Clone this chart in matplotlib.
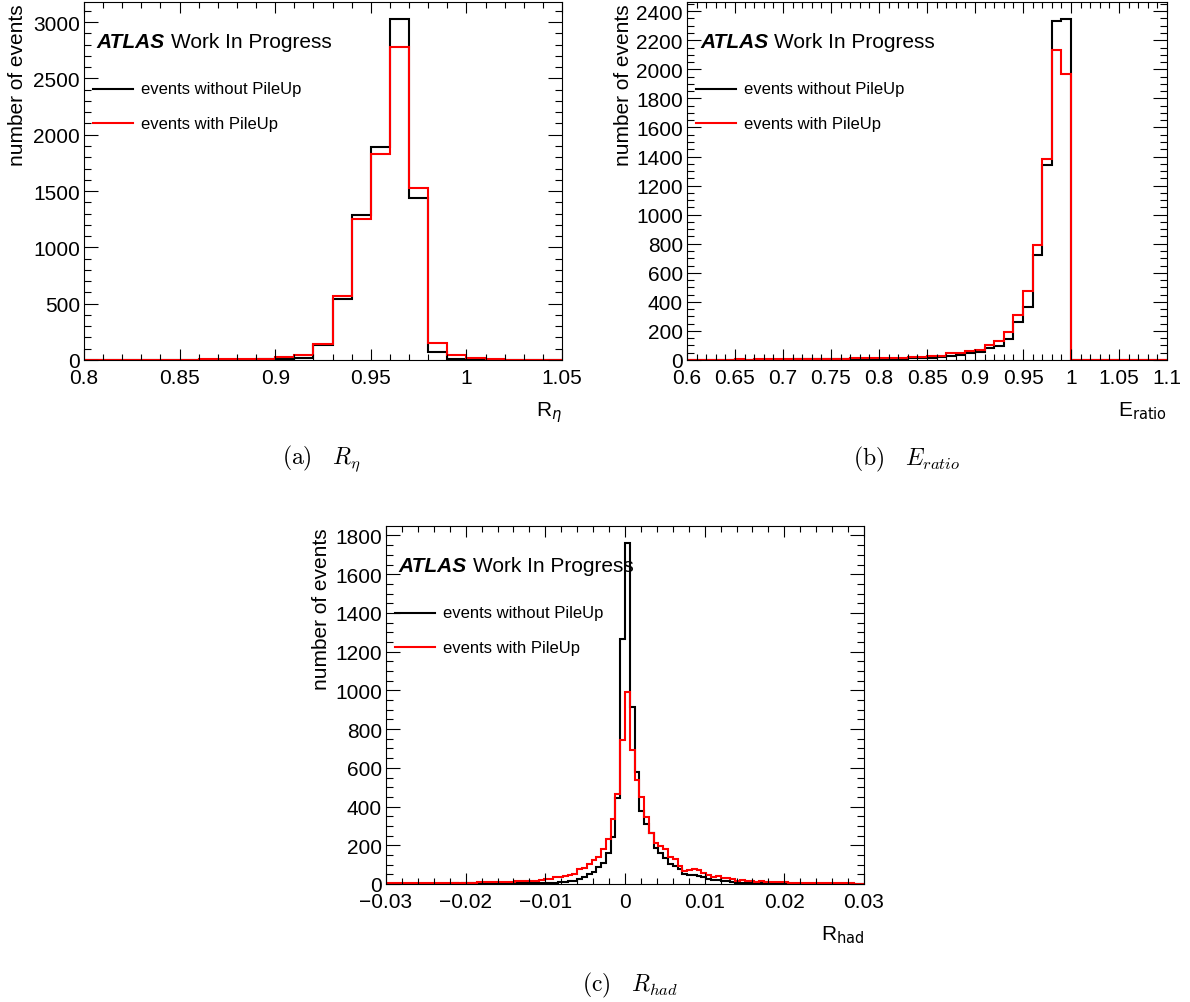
import matplotlib.pyplot as plt
import numpy as np
from matplotlib.lines import Line2D
from matplotlib.ticker import FuncFormatter, MultipleLocator

plt.rcParams["font.family"] = ["Liberation Sans", "DejaVu Sans"]

# R_eta: 25 bins in [0.80, 1.05]
reta_bins = (0.80, 1.05, 25)
reta_nopu = [0, 0, 0, 0, 1, 1, 2, 2, 3, 5, 9, 18, 136, 541, 1287,
             1888, 3027, 1441, 74, 9, 3, 1, 0, 0, 0]
reta_pu = [1, 1, 1, 2, 3, 4, 5, 6, 8, 12, 24, 44, 142, 571, 1251,
           1825, 2775, 1527, 148, 44, 15, 9, 3, 2, 1]

# E_ratio: 50 bins in [0.6, 1.1]
eratio_bins = (0.6, 1.1, 50)
eratio_nopu = [2, 2, 2, 2, 2, 3, 2, 3, 3, 3, 3, 4, 4,
               8, 7, 5, 6, 6, 7, 7, 7, 8, 9,
               14, 14, 11, 20, 30, 37, 46, 52, 80, 98, 146, 259, 364, 725,
               1343, 2334, 2346,
               0, 0, 0, 0, 0, 0, 0, 0, 0, 0]
eratio_pu = [3, 3, 3, 3, 3, 4, 3, 4, 4, 4, 5, 5, 6,
             10, 10, 9, 10, 11, 11, 12, 13, 16, 16,
             20, 20, 25, 30, 50, 45, 62, 69, 103, 133, 195, 313, 476, 789,
             1384, 2135, 1966,
             0, 0, 0, 0, 0, 0, 0, 0, 0, 0]

# R_had: 100 bins in [-0.03, 0.03]
rhad_bins = (-0.03, 0.03, 100)
rhad_nopu = [1, 1, 1, 1, 1, 1, 2, 1, 2, 2,
             2, 2, 2, 2, 3, 2, 3, 3, 3, 3,
             3, 3, 4, 3, 4, 4, 4, 5, 5, 5,
             5, 6, 6, 6, 7, 7, 8, 10, 14, 17,
             28, 36, 50, 64, 86, 110, 162, 244, 445, 1266,
             1761, 913, 580, 375, 308, 262, 186, 158, 136, 105,
             93, 76, 50, 45, 45, 41, 38, 24, 21, 19,
             17, 14, 10, 7, 6, 5, 5, 4, 4, 4,
             3, 3, 3, 3, 2, 2, 2, 2, 2, 2,
             2, 1, 1, 1, 1, 1, 1, 1, 1, 1]
rhad_pu = [3, 3, 4, 3, 4, 4, 4, 5, 4, 5,
           5, 5, 5, 6, 5, 6, 6, 6, 7, 8,
           9, 9, 10, 10, 11, 11, 12, 14, 15, 16,
           17, 18, 22, 24, 25, 35, 38, 41, 46, 50,
           76, 84, 105, 122, 141, 182, 230, 337, 463, 745,
           992, 690, 537, 447, 347, 261, 210, 197, 179, 141,
           131, 93, 67, 72, 76, 72, 59, 48, 36, 41,
           33, 29, 24, 17, 19, 14, 17, 12, 14, 10,
           10, 9, 8, 8, 7, 7, 6, 6, 5, 5,
           5, 4, 4, 4, 3, 3, 3, 3, 2, 2]

legend_labels = ["events without PileUp", "events with PileUp"]
colors = ["black", "#ff0000"]


def root_fmt(v, pos):
    v = round(v, 6)
    if v == 0:
        v = 0.0
    return f"{v:g}".replace("-", "\u2212")


def draw_hist(ax, bins, nopu, pu, xlabel, ylabel_x, xmajor, xminor, ymajor, yminor):
    lo, hi, n = bins
    edges = np.linspace(lo, hi, n + 1)
    ax.stairs(nopu, edges, color=colors[0], lw=1.5, baseline=None)
    ax.stairs(pu, edges, color=colors[1], lw=1.5, baseline=None)
    ax.set_xlim(lo, hi)
    ax.set_ylim(0, 1.05 * max(max(nopu), max(pu)))

    ax.xaxis.set_major_locator(MultipleLocator(xmajor))
    ax.xaxis.set_minor_locator(MultipleLocator(xminor))
    ax.yaxis.set_major_locator(MultipleLocator(ymajor))
    ax.yaxis.set_minor_locator(MultipleLocator(yminor))
    ax.xaxis.set_major_formatter(FuncFormatter(root_fmt))
    ax.yaxis.set_major_formatter(FuncFormatter(root_fmt))
    ax.tick_params(which="both", direction="in", top=True, right=True,
                   labelsize=15, width=0.8)
    ax.tick_params(axis="y", which="major", length=10, pad=3)
    ax.tick_params(axis="y", which="minor", length=5)
    ax.tick_params(axis="x", which="major", length=8, pad=6)
    ax.tick_params(axis="x", which="minor", length=4)
    for sp in ax.spines.values():
        sp.set_linewidth(0.8)

    ax.text(ylabel_x, 0.995, "number of events", rotation=90, ha="center",
            va="top", fontsize=15, transform=ax.transAxes)
    ax.text(1.0, -0.154, xlabel, ha="right", va="baseline", fontsize=15,
            math_fontfamily="dejavusans", transform=ax.transAxes)

    t1 = ax.text(0.027, 0.889, "ATLAS", fontsize=15, fontweight="bold",
                 fontstyle="italic", ha="left", va="center",
                 transform=ax.transAxes)
    ax.annotate("Work In Progress", xy=(1, 0), xycoords=t1,
                xytext=(4, 0), textcoords="offset points",
                ha="left", va="bottom", fontsize=15)

    for i, ypos in enumerate([0.757, 0.662]):
        ax.add_line(Line2D([0.019, 0.103], [ypos, ypos], color=colors[i],
                           lw=1.5, transform=ax.transAxes))
        ax.text(0.119, ypos, legend_labels[i], fontsize=12, ha="left",
                va="center", transform=ax.transAxes)


fig = plt.figure(figsize=(11.9, 10.03), dpi=100)
W, H = 1190, 1003


def add_axes(left, top, width, height):
    return fig.add_axes([left / W, (H - top - height) / H, width / W, height / H])


ax_a = add_axes(84, 3, 478, 358)
ax_b = add_axes(687, 3, 480, 358)
ax_c = add_axes(386, 527, 478, 358)

draw_hist(ax_a, reta_bins, reta_nopu, reta_pu, r"R$_{\eta}$", -0.140,
          0.05, 0.01, 500, 100)
draw_hist(ax_b, eratio_bins, eratio_nopu, eratio_pu, r"E$_{\mathrm{ratio}}$",
          -0.133, 0.05, 0.01, 200, 50)
draw_hist(ax_c, rhad_bins, rhad_nopu, rhad_pu, r"R$_{\mathrm{had}}$", -0.134,
          0.01, 0.002, 200, 50)

captions = [r"$\mathrm{(a)}\quad R_{\eta}$", r"$\mathrm{(b)}\quad E_{ratio}$",
            r"$\mathrm{(c)}\quad R_{had}$"]
cap_pos = [(322, 459), (907, 459), (630, 985)]
for cap, (cx, cy) in zip(captions, cap_pos):
    fig.text(cx / W, 1 - cy / H, cap, ha="center", va="center", fontsize=17,
             math_fontfamily="cm")

fig.savefig("out.png", dpi=100)
